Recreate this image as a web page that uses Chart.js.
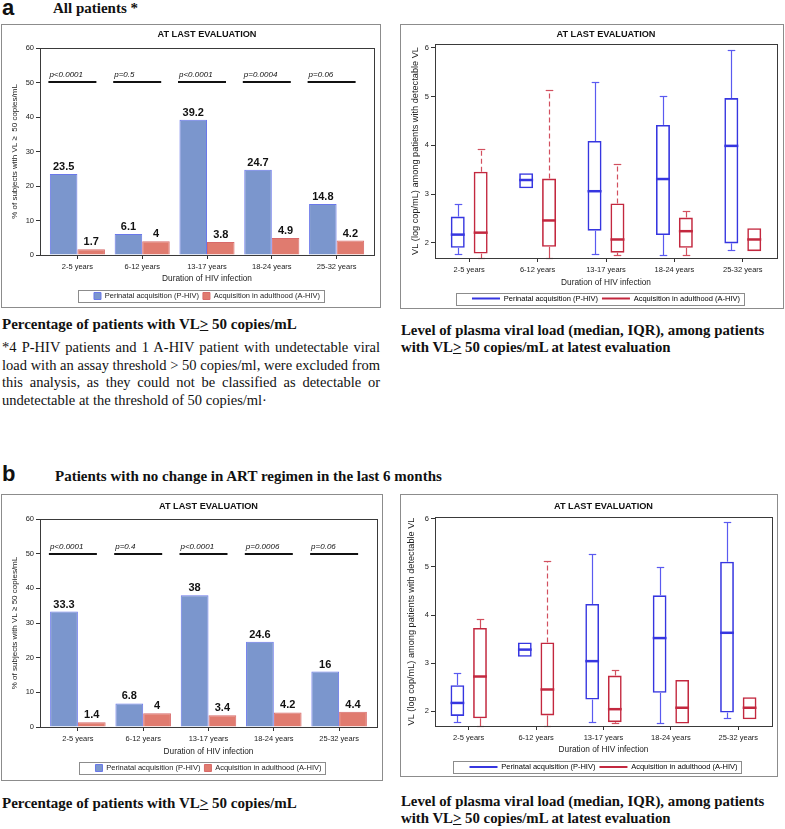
<!DOCTYPE html>
<html>
<head>
<meta charset="utf-8">
<script src="https://cdn.jsdelivr.net/npm/chart.js@4.4.1/dist/chart.umd.min.js"></script>
<style>
  body { margin: 0; background: #fff; width: 785px; height: 829px; position: relative; overflow: hidden;
         font-family: 'Liberation Serif', 'Times New Roman', serif; color: #111; }
  .frame { position: absolute; border: 1px solid #8c8c8c; box-sizing: border-box; }
  .cw { position: relative; width: 100%; height: 100%; }
  .lbl { position: absolute; font-family: 'Liberation Sans', Arial, sans-serif; font-weight: bold; font-size: 22px; line-height: 1; }
  .head { position: absolute; font-weight: bold; font-size: 15px; line-height: 1; white-space: nowrap; }
  .cap { position: absolute; font-weight: bold; font-size: 15px; line-height: 17px; white-space: nowrap; }
  .note { position: absolute; font-size: 14.5px; line-height: 17.7px; text-align: justify; width: 378px; }
</style>
</head>
<body>

<div class="lbl" style="left:2px;top:-3px">a</div>
<div class="head" style="left:53px;top:1px">All patients *</div>

<div class="frame" style="left:1px;top:24px;width:380px;height:284px"><div class="cw"><canvas id="barA"></canvas></div></div>
<div class="frame" style="left:400px;top:24px;width:384px;height:285px"><div class="cw"><canvas id="boxA"></canvas></div></div>

<div class="cap" style="left:2px;top:316px">Percentage of patients with VL<u>&gt;</u> 50 copies/mL</div>
<div class="note" style="left:2px;top:339px">*4 P-HIV patients and 1 A-HIV patient with undetectable viral load with an assay threshold &gt; 50 copies/ml, were excluded from this analysis, as they could not be classified as detectable or undetectable at the threshold of 50 copies/ml·</div>
<div class="cap" style="left:401px;top:322px;font-size:14.8px">Level of plasma viral load (median, IQR), among patients<br>with VL<u>&gt;</u> 50 copies/mL at latest evaluation</div>

<div class="lbl" style="left:2px;top:463px">b</div>
<div class="head" style="left:55px;top:469px">Patients with no change in ART regimen in the last 6 months</div>

<div class="frame" style="left:1px;top:494px;width:382px;height:287px"><div class="cw"><canvas id="barB"></canvas></div></div>
<div class="frame" style="left:400px;top:494px;width:378px;height:283px"><div class="cw"><canvas id="boxB"></canvas></div></div>

<div class="cap" style="left:2px;top:795px">Percentage of patients with VL<u>&gt;</u> 50 copies/mL</div>
<div class="cap" style="left:401px;top:793px;font-size:14.8px">Level of plasma viral load (median, IQR), among patients<br>with VL<u>&gt;</u> 50 copies/mL at latest evaluation</div>

<script>
// 공통 설정
Chart.defaults.font.family = "'Liberation Sans', Arial, sans-serif";
Chart.defaults.color = '#222';
Chart.defaults.animation = false;

const durations = ['2-5 years', '6-12 years', '13-17 years', '18-24 years', '25-32 years'];
const seriesNames = ['Perinatal acquisition (P-HIV)', 'Acquisition in adulthood (A-HIV)'];

// a: all patients, % with VL >= 50
const pctAllP = [23.5, 6.1, 39.2, 24.7, 14.8];
const pctAllA = [1.7, 4, 3.8, 4.9, 4.2];
const pAll = ['p<0.0001', 'p=0.5', 'p<0.0001', 'p=0.0004', 'p=0.06'];

// b: no change in ART regimen
const pctStableP = [33.3, 6.8, 38, 24.6, 16];
const pctStableA = [1.4, 4, 3.4, 4.2, 4.4];
const pStable = ['p<0.0001', 'p=0.4', 'p<0.0001', 'p=0.0006', 'p=0.06'];

// VL (log cop/mL) box stats: [min, q1, median, q3, max]
const vlAllP = [
  [1.78, 1.90, 2.17, 2.54, 2.80],
  [3.12, 3.12, 3.29, 3.43, 3.43],
  [1.78, 2.25, 3.06, 4.09, 5.30],
  [1.76, 2.16, 3.31, 4.42, 5.01],
  [1.85, 1.99, 3.99, 4.97, 5.95]
];
const vlAllA = [
  [1.70, 1.78, 2.21, 3.46, 3.93],
  [1.70, 1.92, 2.46, 3.32, 5.14],
  [1.75, 1.80, 2.07, 2.81, 3.62],
  [1.75, 1.90, 2.24, 2.52, 2.66],
  [1.83, 1.83, 2.07, 2.30, 2.30]
];
const vlStableP = [
  [1.78, 1.90, 2.17, 2.54, 2.80],
  [3.13, 3.13, 3.28, 3.43, 3.43],
  [1.78, 2.24, 3.04, 4.23, 5.28],
  [1.76, 2.38, 3.52, 4.41, 5.00],
  [1.86, 1.97, 3.63, 5.11, 5.94]
];
const vlStableA = [
  [1.70, 1.85, 2.72, 3.73, 3.92],
  [1.70, 1.91, 2.45, 3.43, 5.12],
  [1.75, 1.77, 2.04, 2.74, 2.85],
  [1.74, 1.74, 2.07, 2.65, 2.65],
  [1.83, 1.83, 2.07, 2.29, 2.29]
];

const TICK_FS = 7.5, TITLE_FS = 9.2, AXT_FS = 8.3, LEG_FS = 7.5, LEG_PAD = 4;

// 플롯 테두리 + 범례 테두리
const framePlugin = {
  id: 'frame',
  afterDraw(chart) {
    const { ctx, chartArea: a } = chart;
    ctx.save();
    ctx.strokeStyle = '#3a3a3a';
    ctx.lineWidth = 1;
    ctx.strokeRect(Math.round(a.left) + 0.5, Math.round(a.top) + 0.5,
      Math.round(a.right - a.left), Math.round(a.bottom - a.top));
    const hb = chart.legend && chart.legend.legendHitBoxes;
    if (hb && hb.length) {
      const l = Math.min(...hb.map(h => h.left));
      const r = Math.max(...hb.map(h => h.left + h.width));
      const t = Math.min(...hb.map(h => h.top));
      const b = Math.max(...hb.map(h => h.top + h.height));
      ctx.strokeStyle = '#8c8c8c';
      ctx.strokeRect(Math.round(l - 16) + 0.5, Math.round(t - 2) + 0.5,
        Math.round(r - l + 20), Math.round(b - t + 4));
    }
    ctx.restore();
  }
};

// 카테고리 축 양끝 여백 (SAS 스타일)
const catInset = {
  id: 'catInset',
  afterLayout(chart, args, opts) {
    const x = chart.scales.x;
    if (opts.pad) {
      x._startValue -= opts.pad;
      x._valueRange += opts.pad * 2;
    }
  }
};

// 막대 값 라벨 + p값 선
const barNotes = {
  id: 'barNotes',
  afterDatasetsDraw(chart, args, opts) {
    const { ctx, scales: { x, y } } = chart;
    ctx.save();
    ctx.font = "bold 11px 'Liberation Sans', Arial, sans-serif";
    ctx.fillStyle = '#111';
    ctx.textAlign = 'center';
    ctx.textBaseline = 'alphabetic';
    chart.data.datasets.forEach((ds, di) => {
      chart.getDatasetMeta(di).data.forEach((bar, i) => {
        ctx.fillText(String(ds.data[i]), bar.x, bar.y - 4);
      });
    });
    const yl = Math.round(y.getPixelForValue(50));
    ctx.font = "italic 8px 'Liberation Sans', Arial, sans-serif";
    ctx.textAlign = 'left';
    ctx.strokeStyle = '#111';
    ctx.lineWidth = 2;
    (opts.pvalues || []).forEach((p, i) => {
      const cx = x.getPixelForValue(i);
      ctx.beginPath();
      ctx.moveTo(cx - 29, yl);
      ctx.lineTo(cx + 19, yl);
      ctx.stroke();
      ctx.fillText(p, cx - 28, yl - 5);
    });
    ctx.restore();
  }
};

// 박스플롯 수염 + 중앙값
const boxPlot = {
  id: 'boxPlot',
  afterDatasetsDraw(chart) {
    const { ctx, scales: { y } } = chart;
    chart.data.datasets.forEach((ds, di) => {
      chart.getDatasetMeta(di).data.forEach((el, i) => {
        const [lo, q1, med, q3, hi] = ds.stats[i];
        const x = Math.round(el.x) + 0.5;
        const half = el.width / 2;
        const cap = el.width * 0.27;
        ctx.save();
        ctx.strokeStyle = ds.whiskerColor;
        ctx.lineWidth = 1.2;
        const seg = (v0, v1, dash) => {
          if (Math.abs(v1 - v0) < 0.005) return;
          const py = Math.round(y.getPixelForValue(v1)) + 0.5;
          ctx.setLineDash(dash ? [5, 3] : []);
          ctx.beginPath();
          ctx.moveTo(x, y.getPixelForValue(v0));
          ctx.lineTo(x, py);
          ctx.stroke();
          ctx.setLineDash([]);
          ctx.beginPath();
          ctx.moveTo(x - cap, py);
          ctx.lineTo(x + cap, py);
          ctx.stroke();
        };
        seg(q3, hi, ds.dashedUpper && ds.dashedUpper[i]);
        seg(q1, lo, false);
        const my = y.getPixelForValue(med);
        ctx.strokeStyle = ds.borderColor;
        ctx.lineWidth = 2.5;
        ctx.beginPath();
        ctx.moveTo(el.x - half, my);
        ctx.lineTo(el.x + half, my);
        ctx.stroke();
        ctx.restore();
      });
    });
  }
};

// 공통 레이아웃 옵션
function baseOptions(g, yTitle, yMin, yMax, stepSize) {
  const legTop = g.legendY - LEG_PAD - LEG_FS / 2;
  const xH = legTop - g.bottom;
  const legH = g.H - legTop;
  return {
    responsive: true,
    maintainAspectRatio: false,
    layout: { padding: { left: 0, right: g.W - g.right, top: 0, bottom: 0 } },
    scales: {
      x: {
        afterFit: s => { s.height = xH; },
        grid: { display: true, drawOnChartArea: false, drawTicks: true, tickLength: 4, color: '#333', offset: false },
        border: { display: true, color: '#333' },
        ticks: { font: { size: TICK_FS }, color: '#222', padding: 3, maxRotation: 0 },
        title: {
          display: true, text: 'Duration of HIV infection', color: '#222', font: { size: AXT_FS },
          padding: { top: 0, bottom: legTop - g.xTitleY - AXT_FS * 0.6 }
        }
      },
      y: {
        min: yMin, max: yMax,
        afterFit: s => { s.width = g.left; },
        grid: { display: true, drawOnChartArea: false, drawTicks: true, tickLength: 4, color: '#333' },
        border: { display: true, color: '#333' },
        ticks: { stepSize: stepSize, includeBounds: false, font: { size: TICK_FS }, color: '#222', padding: 2 },
        title: {
          display: true, text: yTitle, color: '#222', font: { size: g.yTitleFs || 8 },
          padding: { top: g.yTitleX - (g.yTitleFs || 8) * 0.6, bottom: 0 }
        }
      }
    },
    plugins: {
      title: {
        display: true, text: 'AT LAST EVALUATION', fullSize: false, color: '#111',
        font: { size: TITLE_FS, weight: 'bold' },
        padding: { top: g.titleY - TITLE_FS * 0.6, bottom: g.top - g.titleY - TITLE_FS * 0.6 }
      },
      legend: {
        position: 'bottom', fullSize: false, maxHeight: legH
      },
      catInset: { pad: g.inset || 0 },
      tooltip: { enabled: false }
    }
  };
}

function createBarChart(id, g, pVals, aVals, pvalues, yTitle) {
  const opts = baseOptions(g, yTitle, 0, 60, 10);
  opts.plugins.legend.labels = { boxWidth: 7, boxHeight: 7, padding: LEG_PAD, font: { size: LEG_FS }, color: '#222' };
  opts.plugins.barNotes = { pvalues: pvalues };
  return new Chart(document.getElementById(id), {
    type: 'bar',
    data: {
      labels: durations,
      datasets: [
        { label: seriesNames[0], data: pVals, backgroundColor: '#7b96cd', borderColor: '#6a78ea', borderWidth: 1,
          categoryPercentage: 0.85, barPercentage: 1.0 },
        { label: seriesNames[1], data: aVals, backgroundColor: '#e07b6f', borderColor: '#d86a6a', borderWidth: 1,
          categoryPercentage: 0.85, barPercentage: 1.0 }
      ]
    },
    options: opts,
    plugins: [catInset, barNotes, framePlugin]
  });
}

function createBoxChart(id, g, pStats, aStats, dashedA, yMax) {
  const opts = baseOptions(g, 'VL (log cop/mL) among patients with detectable VL', 1.69, yMax, 1);
  opts.plugins.legend.labels = {
    usePointStyle: true, pointStyleWidth: 28, boxHeight: 7, padding: LEG_PAD, font: { size: LEG_FS }, color: '#222',
    generateLabels: chart => chart.data.datasets.map((ds, i) => ({
      text: ds.label, pointStyle: 'line', strokeStyle: ds.borderColor, fillStyle: ds.borderColor,
      lineWidth: 2, datasetIndex: i, hidden: false
    }))
  };
  const mk = (label, stats, color, whisker, dashed) => ({
    label: label,
    data: stats.map(s => [s[1], s[3]]),
    stats: stats,
    dashedUpper: dashed,
    whiskerColor: whisker,
    backgroundColor: 'rgba(255,255,255,0)',
    borderColor: color,
    borderWidth: 1.6,
    borderSkipped: false,
    categoryPercentage: 0.67,
    barPercentage: 0.61
  });
  return new Chart(document.getElementById(id), {
    type: 'bar',
    data: {
      labels: durations,
      datasets: [
        mk(seriesNames[0], pStats, '#3636e0', '#5a5af0', null),
        mk(seriesNames[1], aStats, '#c3283f', '#d2505f', dashedA)
      ]
    },
    options: opts,
    plugins: [boxPlot, framePlugin]
  });
}

createBarChart('barA',
  { W: 378, H: 282, left: 38, right: 372, top: 23, bottom: 230, titleY: 9.5, xTitleY: 254, legendY: 271, yTitleX: 13, yTitleFs: 8, inset: 0.077 },
  pctAllP, pctAllA, pAll, '% of subjects with VL \u2265  50 copies/mL');

createBarChart('barB',
  { W: 380, H: 285, left: 38, right: 375, top: 24, bottom: 232, titleY: 11, xTitleY: 257, legendY: 273, yTitleX: 13, yTitleFs: 8, inset: 0.08 },
  pctStableP, pctStableA, pStable, '% of subjects with VL \u2265 50 copies/mL');

createBoxChart('boxA',
  { W: 382, H: 283, left: 34, right: 376, top: 19, bottom: 233, titleY: 9.5, xTitleY: 258, legendY: 273.5, yTitleX: 14, yTitleFs: 9.2 },
  vlAllP, vlAllA, [true, true, true, false, false], 6.08);

createBoxChart('boxB',
  { W: 376, H: 281, left: 34, right: 371, top: 22, bottom: 231, titleY: 11, xTitleY: 255, legendY: 272, yTitleX: 10.5, yTitleFs: 9.2 },
  vlStableP, vlStableA, [false, true, false, false, false], 6.04);
</script>
</body>
</html>
